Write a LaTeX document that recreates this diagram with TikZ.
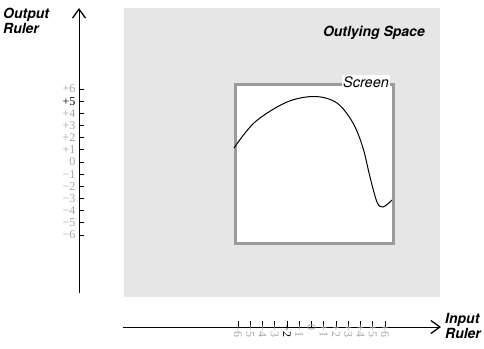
\documentclass[tikz,border=0pt]{standalone}
\usepackage{fontspec}
\usepackage{xcolor}
\newfontfamily\labelfont{TeX Gyre Heros}
\newfontfamily\numfont{Liberation Serif}
\usetikzlibrary{arrows.meta}
\definecolor{spacegray}{RGB}{230, 230, 230}
\definecolor{screengray}{RGB}{155, 155, 155}
\definecolor{numgray}{RGB}{165, 165, 165}

\begin{document}
\begin{tikzpicture}[
    x=1pt, y=-1pt,
    axis/.style={line width=1pt, -{Straight Barb[length=9pt, width=13pt, line width=1.3pt]}},
    rulerlabel/.style={font=\labelfont\bfseries\itshape\fontsize{14}{15}\selectfont, align=left, inner sep=0pt},
    ticker/.style={line width=0.8pt},
    num/.style={font=\numfont\fontsize{12}{12}\selectfont, text=numgray, inner sep=0.5pt},
    hilite/.style={text=black}
]
    \useasboundingbox (0,0) rectangle (484,348);

    % ==========================================
    % OUTLYING SPACE AND SCREEN
    % ==========================================
    \node[fill=spacegray, inner sep=0pt, minimum width=316, minimum height=289, anchor=north west] (space) at (124,8) {};
    \node[rulerlabel, anchor=north east] (spacelabel) at (425,26) {Outlying Space};

    \node[draw=screengray, line width=2.5pt, fill=white, inner sep=0pt, minimum width=158, minimum height=159, anchor=north west] (screen) at (234,83) {};
    \node[fill=white, inner sep=1pt, font=\labelfont\itshape\fontsize{14.5}{14.5}\selectfont] (screenlabel) at (366,82) {Screen};

    % curve on the screen
    \draw[line width=1pt] plot[smooth, tension=0.55] coordinates {
        (234,148) (255,122) (287,102) (315,96.5) (337,103) (353,123)
        (363,148) (370,177) (377,202) (383,207) (392,200)};

    % ==========================================
    % OUTPUT RULER (vertical)
    % ==========================================
    \coordinate (outbase) at (79,293);
    \coordinate (outtip) at (79,8);
    \draw[axis] (outbase) -- (outtip);
    \node[rulerlabel, anchor=north west] (outlabel) at (3,8) {Output\\Ruler};

    \foreach \n in {-6,...,6} {
        \coordinate (otick\n) at (79,162-12.17*\n);
        \draw[ticker] (otick\n) -- ++(5,0);
    }
    \foreach \n/\t in {6/+6,4/+4,3/+3,2/+2,1/+1,0/0,-1/−1,-2/−2,-3/−3,-4/−4,-5/−5,-6/−6}
        \node[num, anchor=east] (onum\n) at ([xshift=-3pt]otick\n) {\t};
    \node[num, hilite, anchor=east] (onum5) at ([xshift=-3pt]otick5) {+5};

    % ==========================================
    % INPUT RULER (horizontal)
    % ==========================================
    \coordinate (inbase) at (123,327);
    \coordinate (intip) at (441,327);
    \draw[axis] (inbase) -- (intip);
    \node[rulerlabel, anchor=north west] (inlabel) at (445,313) {Input\\Ruler};

    \foreach \n in {-6,...,6} {
        \coordinate (itick\n) at (311.5+12.25*\n,327);
        \draw[ticker] (itick\n) -- ++(0,-6);
    }
    \foreach \n/\t in {6/+6,5/+5,4/+4,3/+3,2/+2,1/+1,0/0,-1/−1,-3/−3,-4/−4,-5/−5,-6/−6}
        \node[num, rotate=-90, anchor=west] (inum\n) at ([yshift=3pt]itick\n) {\t};
    \node[num, hilite, rotate=-90, anchor=west] (inum-2) at ([yshift=3pt]itick-2) {−2};

\end{tikzpicture}
\end{document}
